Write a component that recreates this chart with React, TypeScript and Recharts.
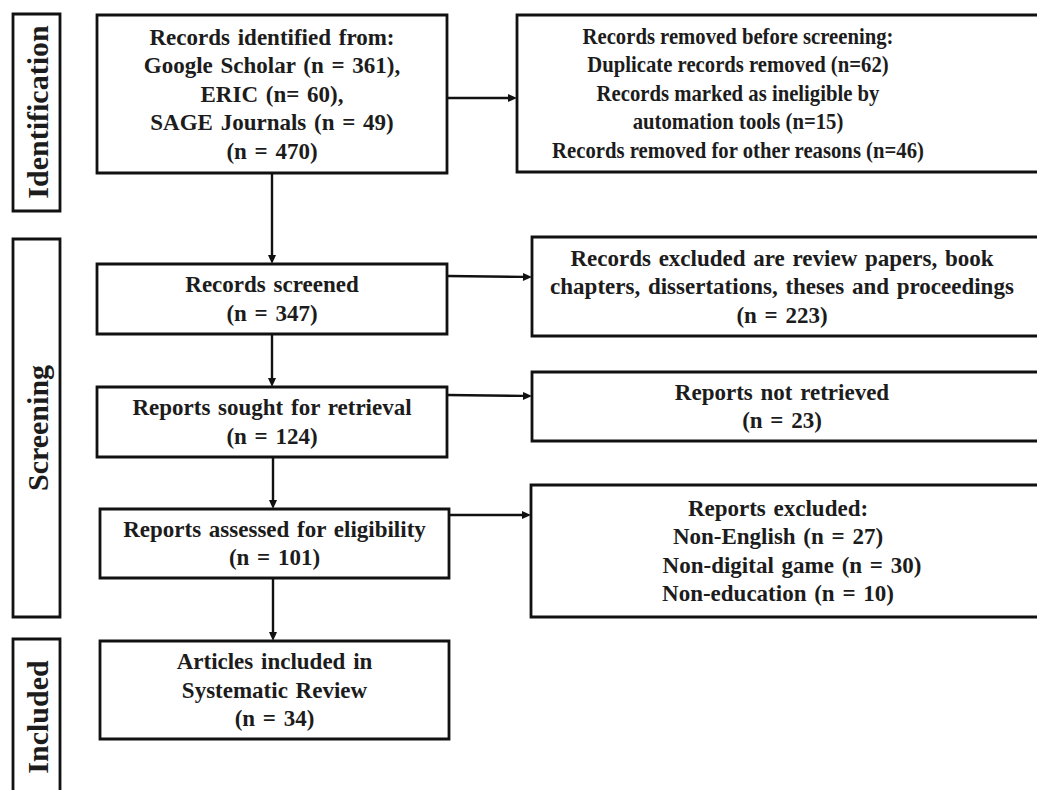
import React from "react";
import { ComposedChart, XAxis, YAxis, ReferenceArea, ReferenceLine } from "recharts";

// ---- content (text / counts) ----
const stageLabels = ["Identification", "Screening", "Included"];

const mainBoxLines = [
  ["Records identified  from:", "Google Scholar (n = 361),", "ERIC (n= 60),", "SAGE Journals (n = 49)", "(n = 470)"],
  ["Records screened", "(n = 347)"],
  ["Reports sought for retrieval", "(n = 124)"],
  ["Reports assessed for eligibility", "(n = 101)"],
  ["Articles included in", "Systematic Review", "(n = 34)"],
];

const sideBoxLines = [
  [
    "Records removed before screening:",
    "Duplicate records removed (n=62)",
    "Records marked as ineligible by",
    "automation tools (n=15)",
    "Records removed for other reasons (n=46)",
  ],
  ["Records excluded are review papers, book", "chapters, dissertations, theses and proceedings", "(n = 223)"],
  ["Reports not retrieved", "(n = 23)"],
  ["Reports excluded:", "Non-English  (n = 27)", "Non-digital game (n = 30)", "Non-education (n = 10)"],
];

// ---- layout (diagram coordinates) ----
const W = 1037;
const H = 790;
const stageLayout = [
  { x1: 13, x2: 60, y1: 14, y2: 211 },
  { x1: 13, x2: 60, y1: 239, y2: 617 },
  { x1: 13, x2: 60, y1: 639, y2: 805 },
];
const stageTextCenter = [112, 428, 717];
const mainLayout = [
  { x1: 97, x2: 447, y1: 15, y2: 173 },
  { x1: 97, x2: 447, y1: 264, y2: 334 },
  { x1: 97, x2: 447, y1: 387, y2: 457 },
  { x1: 100, x2: 449, y1: 509, y2: 578 },
  { x1: 100, x2: 449, y1: 641, y2: 739 },
];
const sideLayout = [
  { x1: 517, x2: 1045, y1: 15, y2: 172, tx: 738, ws: 0, sx: 0.9 },
  { x1: 532, x2: 1045, y1: 237, y2: 336, tx: 782, ws: 2, sx: 1 },
  { x1: 532, x2: 1045, y1: 372, y2: 441, tx: 782, ws: 2, sx: 1 },
  { x1: 531, x2: 1045, y1: 485, y2: 617, tx: 778, ws: 2, sx: 1 },
];
const sideLineShift = [[], [], [], [0, 0, 14, 0]];
const downArrows = [
  [{ x: 272, y: 173 }, { x: 272, y: 264 }],
  [{ x: 272, y: 334 }, { x: 272, y: 387 }],
  [{ x: 273, y: 457 }, { x: 273, y: 509 }],
  [{ x: 273, y: 578 }, { x: 273, y: 641 }],
];
const rightArrows = [
  [{ x: 447, y: 98 }, { x: 517, y: 98 }],
  [{ x: 447, y: 276 }, { x: 532, y: 277 }],
  [{ x: 447, y: 395 }, { x: 532, y: 396 }],
  [{ x: 449, y: 515 }, { x: 531, y: 515 }],
];

const FONT = "'Liberation Serif', 'Times New Roman', serif";
const TEXT_COLOR = "#1c1c1c";
const LINE_H = 28.5;

function makeBoxText(lines: string[], textX?: number, shifts: number[] = [], ws = 2, sx = 1) {
  return (props: any) => {
    const vb = props.viewBox || {};
    const cx = textX !== undefined ? textX : vb.x + vb.width / 2;
    const cy = vb.y + vb.height / 2;
    const n = lines.length;
    return (
      <text
        fontFamily={FONT}
        fontWeight="bold"
        fontSize={23}
        fill={TEXT_COLOR}
        textAnchor="middle"
        transform={sx !== 1 ? `translate(${cx} 0) scale(${sx} 1) translate(${-cx} 0)` : undefined}
        style={{ wordSpacing: `${ws}px` }}
      >
        {lines.map((ln, i) => (
          <tspan key={i} x={cx + (shifts[i] || 0)} y={cy + (i - (n - 1) / 2) * LINE_H + 7.5}>
            {ln}
          </tspan>
        ))}
      </text>
    );
  };
}

function makeStageText(label: string, cyText: number) {
  return (props: any) => {
    const vb = props.viewBox || {};
    const cx = vb.x + vb.width / 2 + 11;
    return (
      <text
        x={cx}
        y={cyText}
        transform={`rotate(-90 ${cx} ${cyText})`}
        fontFamily={FONT}
        fontWeight="bold"
        fontSize={30}
        fill={TEXT_COLOR}
        textAnchor="middle"
      >
        {label}
      </text>
    );
  };
}

const ArrowShape = (props: any) => {
  const { x1, y1, x2, y2 } = props;
  if ([x1, y1, x2, y2].some((v) => typeof v !== "number" || isNaN(v))) return null;
  const dx = x2 - x1;
  const dy = y2 - y1;
  const len = Math.sqrt(dx * dx + dy * dy) || 1;
  const ux = dx / len;
  const uy = dy / len;
  const hl = 9;
  const hw = 4;
  const bx = x2 - ux * hl;
  const by = y2 - uy * hl;
  const px = -uy;
  const py = ux;
  return (
    <g>
      <line x1={x1} y1={y1} x2={bx} y2={by} stroke="#111" strokeWidth={2.4} />
      <polygon
        points={`${x2},${y2} ${bx + px * hw},${by + py * hw} ${bx - px * hw},${by - py * hw}`}
        fill="#111"
      />
    </g>
  );
};

export default function App() {
  return (
    <div style={{ position: "absolute", left: 0, top: 0, width: W, height: H, background: "#fff" }}>
      <ComposedChart width={W} height={H} data={[]} margin={{ top: 0, right: 0, bottom: 0, left: 0 }}>
        <XAxis type="number" dataKey="x" domain={[0, W]} hide allowDataOverflow />
        <YAxis type="number" dataKey="y" domain={[0, H]} reversed hide allowDataOverflow />
        {stageLayout.map((b, i) => (
          <ReferenceArea
            key={`s${i}`}
            x1={b.x1}
            x2={b.x2}
            y1={b.y1}
            y2={b.y2}
            ifOverflow="visible"
            fill="#fff"
            fillOpacity={1}
            stroke="#111"
            strokeWidth={2.8}
            label={makeStageText(stageLabels[i], stageTextCenter[i])}
          />
        ))}
        {mainLayout.map((b, i) => (
          <ReferenceArea
            key={`m${i}`}
            x1={b.x1}
            x2={b.x2}
            y1={b.y1}
            y2={b.y2}
            ifOverflow="visible"
            fill="#fff"
            fillOpacity={1}
            stroke="#111"
            strokeWidth={2.8}
            label={makeBoxText(mainBoxLines[i])}
          />
        ))}
        {sideLayout.map((b, i) => (
          <ReferenceArea
            key={`r${i}`}
            x1={b.x1}
            x2={b.x2}
            y1={b.y1}
            y2={b.y2}
            ifOverflow="visible"
            fill="#fff"
            fillOpacity={1}
            stroke="#111"
            strokeWidth={2.8}
            label={makeBoxText(sideBoxLines[i], b.tx, sideLineShift[i], b.ws, b.sx)}
          />
        ))}
        {[...downArrows, ...rightArrows].map((seg, i) => (
          <ReferenceLine key={`a${i}`} segment={seg} ifOverflow="visible" shape={ArrowShape} />
        ))}
      </ComposedChart>
    </div>
  );
}
